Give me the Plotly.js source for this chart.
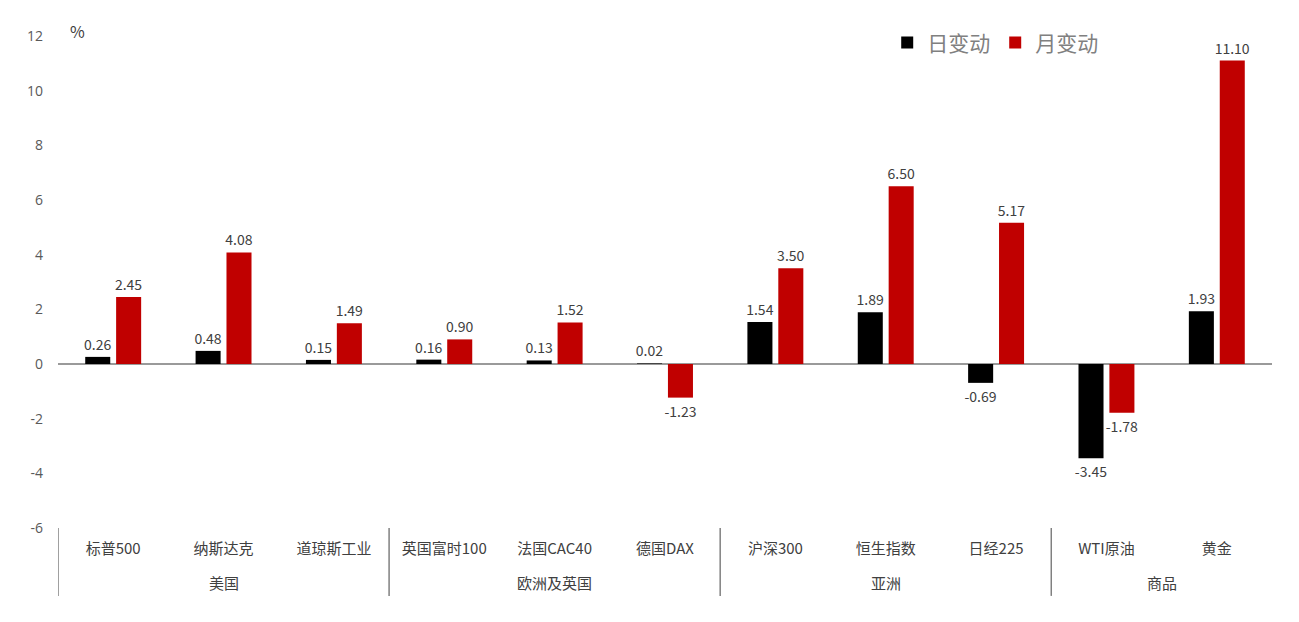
<!DOCTYPE html>
<html>
<head>
<meta charset="utf-8">
<script src="https://cdn.plot.ly/plotly-3.0.1.min.js"></script>
<style>html,body{margin:0;padding:0;background:#fff;}#chart{width:1299px;height:622px;}</style>
</head>
<body>
<div id="chart"></div>
<script>
const categories = ["标普500","纳斯达克","道琼斯工业","英国富时100","法国CAC40","德国DAX","沪深300","恒生指数","日经225","WTI原油","黄金"];
const dailyChange = [0.26, 0.48, 0.15, 0.16, 0.13, 0.02, 1.54, 1.89, -0.69, -3.45, 1.93];
const monthlyChange = [2.45, 4.08, 1.49, 0.90, 1.52, -1.23, 3.50, 6.50, 5.17, -1.78, 11.10];
const groupNames = ["美国","欧洲及英国","亚洲","商品"];
const groupCenters = [1, 4, 7, 9.5];
const groupSeparators = [-0.5, 2.5, 5.5, 8.5];
const yTicks = [-6,-4,-2,0,2,4,6,8,10,12];

const fontFamily = '"Noto Sans CJK SC", "Noto Sans", sans-serif';
const labelFont = {family: fontFamily, size: 14, color: '#404040'};

const traces = [
  {type:'bar', name:'日变动', x:categories, y:dailyChange,
   marker:{color:'#000000'}, text:dailyChange.map(v=>v.toFixed(2)),
   textposition:'outside', textfont:labelFont, constraintext:'none', cliponaxis:false, hoverinfo:'skip'},
  {type:'bar', name:'月变动', x:categories, y:monthlyChange,
   marker:{color:'#C00000'}, text:monthlyChange.map(v=>v.toFixed(2)),
   textposition:'outside', textfont:labelFont, constraintext:'none', cliponaxis:false, hoverinfo:'skip'}
];

const shapes = groupSeparators.map(x => ({
  type:'line', xref:'x', yref:'paper', x0:x, x1:x, y0:0, y1:-0.138,
  line:{color:'#808080', width:1.5}
}));

const annotations = groupNames.map((g,i) => ({
  text:g, xref:'x', yref:'paper', x:groupCenters[i], y:-0.11,
  showarrow:false, yanchor:'middle', font:{family:fontFamily, size:15, color:'#404040'}
}));
annotations.push({text:'%', xref:'paper', yref:'paper', x:0.016, y:1.01, xanchor:'center', yanchor:'middle',
  showarrow:false, font:{family:fontFamily, size:16, color:'#404040'}});

const layout = {
  width:1299, height:622,
  margin:{l:58, r:27, t:36, b:94},
  paper_bgcolor:'#fff', plot_bgcolor:'#fff',
  barmode:'group', bargap:0.44, bargroupgap:0.19,
  showlegend:true,
  legend:{orientation:'h', x:0.772, y:0.986, xanchor:'center', yanchor:'middle', bgcolor:'rgba(0,0,0,0)',
    font:{family:fontFamily, size:21, color:'#808080'}, itemwidth:30, traceorder:'normal'},
  xaxis:{type:'category', showline:false, showgrid:false, zeroline:false, ticks:'',
    tickfont:{family:fontFamily, size:15, color:'#404040'}, ticklabelstandoff:10,
    range:[-0.5,10.5]},
  yaxis:{range:[-6,12], tickvals:yTicks, ticktext:yTicks.map(String), showgrid:false, showline:false,
    zeroline:true, zerolinecolor:'#9a9a9a', zerolinewidth:1.5,
    tickfont:{family:'"Open Sans", sans-serif', size:14, color:'#595959'}, ticklabelstandoff:14},
  shapes:shapes, annotations:annotations
};

Plotly.newPlot('chart', traces, layout, {displayModeBar:false, staticPlot:true});
</script>
</body>
</html>
